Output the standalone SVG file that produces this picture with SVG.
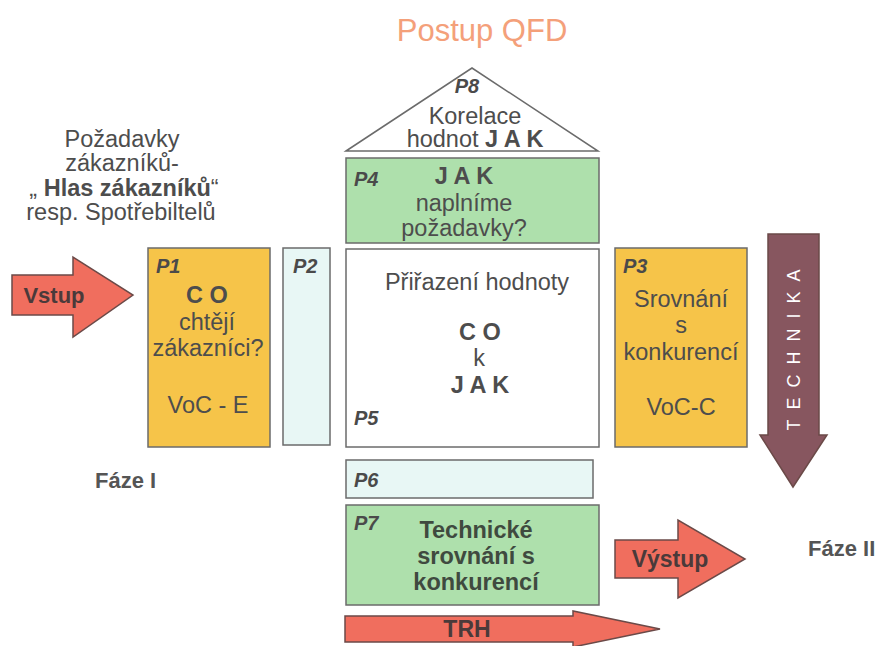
<svg xmlns="http://www.w3.org/2000/svg" width="880" height="646" viewBox="0 0 880 646">
<style>
  text { font-family: "Liberation Sans", Arial, sans-serif; fill: #4d4d4d; }
  .t { font-size: 23.5px; text-anchor: middle; }
  .b { font-weight: bold; }
  .lbl { font-size: 20px; font-weight: bold; font-style: italic; fill: #4a4a4a; }
  .box { stroke: #6b6b6b; stroke-width: 1.5; }
  .org { fill: #F6C449; }
  .grn { fill: #AEE0AC; }
  .cyn { fill: #E8F7F5; }
  .wht { fill: #ffffff; }
  .red { fill: #F06E5E; stroke: #6b4a48; stroke-width: 1.5; }
  .brn { fill: #87565F; stroke: #6b4a48; stroke-width: 1.5; }
  .at { font-size: 23px; font-weight: bold; fill: #4a3a3a; text-anchor: middle; }
  .ph { font-size: 22px; font-weight: bold; fill: #555555; }
</style>
<rect width="880" height="646" fill="#ffffff"/>
<text x="482" y="41" style="font-size:31px;fill:#F4A07A;text-anchor:middle">Postup QFD</text>

<g id="voice">
  <text class="t" x="122" y="147">Požadavky</text>
  <text class="t" x="122" y="171">zákazníků-</text>
  <text class="t" x="124" y="196"><tspan>„ </tspan><tspan class="b">Hlas zákazníků</tspan><tspan>“</tspan></text>
  <text class="t" x="121" y="220">resp. Spotřebiltelů</text>
</g>

<g id="connectors">
  <g id="vstup">
    <polygon class="red" points="12,275 73,275 73,257 133,295 73,337 73,315 12,315"/>
    <text class="at" x="54" y="303" style="font-size:22px">Vstup</text>
  </g>
  <g id="technika">
    <polygon class="brn" points="768,234 819,234 819,435 827,435 793,487 760,435 768,435"/>
    <text x="0" y="0" transform="translate(800,345) rotate(-90)" style="font-size:18px;fill:#ffffff;text-anchor:middle;letter-spacing:10px">TECHNIKA</text>
  </g>
  <g id="vystup">
    <polygon class="red" points="615,540 678,540 678,520 745,559 678,598 678,578 615,578"/>
    <text class="at" x="670" y="567">Výstup</text>
  </g>
  <g id="trh">
    <polygon class="red" points="345,616 573,616 573,611 660,629 573,647 573,642 345,642"/>
    <text class="at" x="467" y="637">TRH</text>
  </g>
</g>

<g id="P8">
  <polygon class="box wht" points="346,151 472,68 598,151"/>
  <text class="lbl" x="467" y="93" text-anchor="middle">P8</text>
  <text class="t" x="475" y="124">Korelace</text>
  <text class="t" x="475" y="147">hodnot <tspan class="b">J A K</tspan></text>
</g>

<g id="P4">
  <rect class="box grn" x="346" y="158" width="253" height="85"/>
  <text class="lbl" x="354" y="186">P4</text>
  <text class="t b" x="464" y="184">J A K</text>
  <text class="t" x="464" y="211">naplníme</text>
  <text class="t" x="464" y="236">požadavky?</text>
</g>

<g id="P5">
  <rect class="box wht" x="346" y="249" width="253" height="198"/>
  <text class="t" x="477" y="290">Přiřazení hodnoty</text>
  <text class="t b" x="480" y="340">C O</text>
  <text class="t" x="479" y="366">k</text>
  <text class="t b" x="480" y="393">J A K</text>
  <text class="lbl" x="354" y="425">P5</text>
</g>

<g id="P1">
  <rect class="box org" x="148" y="248" width="122" height="199"/>
  <text class="lbl" x="156" y="273">P1</text>
  <text class="t b" x="207" y="303">C O</text>
  <text class="t" x="207" y="330">chtějí</text>
  <text class="t" x="208" y="356">zákazníci?</text>
  <text class="t" x="208" y="413">VoC - E</text>
</g>

<g id="P2">
  <rect class="box cyn" x="283" y="248" width="47" height="197"/>
  <text class="lbl" x="293" y="273">P2</text>
</g>

<g id="P3">
  <rect class="box org" x="615" y="248" width="132" height="199"/>
  <text class="lbl" x="623" y="273">P3</text>
  <text class="t" x="681" y="307">Srovnání</text>
  <text class="t" x="681" y="333">s</text>
  <text class="t" x="681" y="360">konkurencí</text>
  <text class="t" x="681" y="415">VoC-C</text>
</g>

<g id="P6">
  <rect class="box cyn" x="346" y="460" width="247" height="38"/>
  <text class="lbl" x="354" y="487">P6</text>
</g>

<g id="P7">
  <rect class="box grn" x="346" y="505" width="253" height="100"/>
  <text class="lbl" x="354" y="530">P7</text>
  <text class="t b" x="476" y="538" style="fill:#3f4a3f">Technické</text>
  <text class="t b" x="476" y="564" style="fill:#3f4a3f">srovnání s</text>
  <text class="t b" x="476" y="590" style="fill:#3f4a3f">konkurencí</text>
</g>

<g id="phases">
  <text class="ph" x="95" y="488">Fáze I</text>
  <text class="ph" x="808" y="556">Fáze II</text>
</g>
</svg>
